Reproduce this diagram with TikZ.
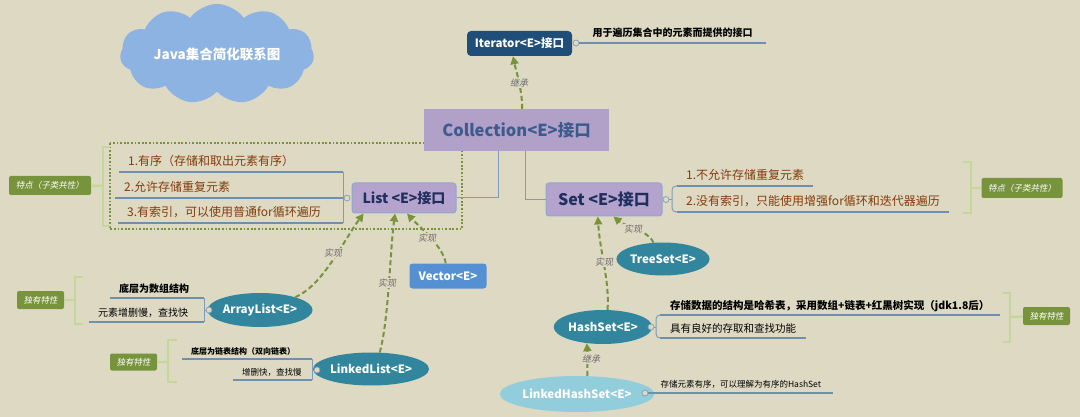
\documentclass[tikz,border=0pt]{standalone}
\usepackage{fontspec}
\setmainfont{Noto Sans CJK SC}
\newfontfamily\slfont{Noto Sans CJK SC}[FakeSlant=0.2]
\usetikzlibrary{shapes.symbols,shapes.geometric,arrows.meta}

\definecolor{bgcol}{HTML}{DED9C3}
\definecolor{cloudblue}{HTML}{8DB3E2}
\definecolor{iterblue}{HTML}{1F4E79}
\definecolor{collfill}{HTML}{B1A0C7}
\definecolor{colltext}{HTML}{3B5B8C}
\definecolor{ifacefill}{HTML}{B4A3CC}
\definecolor{ifaceline}{HTML}{8FA8CF}
\definecolor{ifacetext}{HTML}{1F2F5F}
\definecolor{vecblue}{HTML}{5590D3}
\definecolor{ellteal}{HTML}{31859C}
\definecolor{elllight}{HTML}{92CDDC}
\definecolor{featgreen}{HTML}{77933C}
\definecolor{brkgreen}{HTML}{C4D79B}
\definecolor{arrgreen}{HTML}{77933C}
\definecolor{lineblue}{HTML}{7F9DB9}
\definecolor{ulblue}{HTML}{6F8FAF}
\definecolor{itemred}{HTML}{843C0C}
\definecolor{labgray}{HTML}{6A6A6A}

\tikzset{
	ifacebox/.style={draw=ifaceline, line width=1pt, fill=ifacefill, rounded corners=3pt, text=ifacetext},
	implell/.style={ellipse, fill=ellteal, text=white, inner sep=0pt, font=\bfseries\fontsize{11.5}{12}\selectfont},
	featbox/.style={fill=featgreen, rounded corners=2pt, text=white, inner sep=0pt, font=\slfont\fontsize{8.5}{9}\selectfont},
	knob/.style={circle, draw=lineblue, fill=bgcol, inner sep=0pt, minimum size=6pt, line width=0.7pt},
	uline/.style={draw=ulblue, line width=2pt},
	conn/.style={draw=lineblue, line width=1pt},
	brk/.style={draw=brkgreen, line width=2.5pt},
	dotbox/.style={draw=arrgreen, line width=1.8pt, dash pattern=on 1.8pt off 1.8pt},
	implarr/.style={draw=arrgreen, line width=2pt, dash pattern=on 5pt off 3pt, -{Triangle[length=8pt,width=8pt]}},
	rel/.style={font=\slfont\fontsize{9}{10}\selectfont, text=labgray, fill=bgcol, inner sep=1pt},
	itemtxt/.style={anchor=base west, inner xsep=9pt, inner ysep=0pt, yshift=6pt},
}

\begin{document}
\begin{tikzpicture}[x=1pt,y=-1pt]
	\fill[bgcol] (0,0) rectangle (1080,417);
	\useasboundingbox (0,0) rectangle (1080,417);

	\node[cloud, cloud puffs=11, cloud puff arc=110, aspect=2.5, fill=cloudblue, minimum width=194pt, minimum height=78pt, text=white, font=\bfseries\fontsize{13.5}{14}\selectfont] (title) at (217,54) {Java集合简化联系图};

	\draw[dotbox] (110,143) rectangle (462,229);

	\node[fill=iterblue, rounded corners=4pt, text=white, minimum width=105pt, minimum height=25pt, inner sep=0pt, font=\bfseries\fontsize{11.5}{12}\selectfont] (iter) at (519.5,43.5) {Iterator<E>接口};
	\node[fill=collfill, text=colltext, minimum width=185pt, minimum height=42pt, inner sep=0pt, font=\bfseries\fontsize{16.5}{17}\selectfont] (coll) at (516.5,130) {Collection<E>接口};
	\node[ifacebox, minimum width=104pt, minimum height=30pt, inner sep=0pt, font=\bfseries\fontsize{14}{15}\selectfont] (list) at (404,198) {List <E>接口};
	\node[ifacebox, minimum width=116pt, minimum height=33pt, inner sep=0pt, font=\bfseries\fontsize{16}{17}\selectfont] (sset) at (604,199.5) {Set <E>接口};
	\node[fill=vecblue, rounded corners=3pt, text=white, minimum width=77pt, minimum height=25pt, inner sep=0pt, font=\bfseries\fontsize{11.5}{12}\selectfont] (vec) at (448,276) {Vector<E>};
	\node[implell, minimum width=93pt, minimum height=34pt] (alist) at (260,310) {ArrayList<E>};
	\node[implell, minimum width=97pt, minimum height=33pt] (llist) at (371,369) {LinkedList<E>};
	\node[implell, minimum width=86pt, minimum height=33pt] (tset) at (663,259) {TreeSet<E>};
	\node[implell, minimum width=88pt, minimum height=34pt] (hset) at (603,327) {HashSet<E>};
	\node[implell, fill=elllight, minimum width=127pt, minimum height=36pt] (lhset) at (577,394) {LinkedHashSet<E>};

	% Collection to the two interfaces
	\draw[conn] (list.east) -| (coll.-131);
	\draw[conn] (sset.west) -| (coll.-68);

	% Iterator
	\node[knob] (iknob) at (576,43) {};
	\node[itemtxt, inner xsep=13pt, font=\bfseries\fontsize{10}{11}\selectfont] (idesc) at (iknob.east) {用于遍历集合中的元素而提供的接口};
	\draw[uline] (iknob.east) -- (idesc.east |- iknob);

	% List
	\node[knob] (lknob) at (347,198) {};
	\coordinate (lspine) at (343,198);
	\coordinate (l1u) at (119,172);
	\coordinate (l2u) at (115,198);
	\coordinate (l3u) at (118,223);
	\node[itemtxt, text=itemred, font=\fontsize{12}{13}\selectfont] (l1) at (l1u) {1.有序（存储和取出元素有序）};
	\node[itemtxt, text=itemred, font=\fontsize{12}{13}\selectfont] (l2) at (l2u) {2.允许存储重复元素};
	\node[itemtxt, text=itemred, font=\fontsize{12}{13}\selectfont] (l3) at (l3u) {3.有索引，可以使用普通for循环遍历};
	\draw[uline] (l1u) -- (l1u -| lspine);
	\draw[uline] (l2u) -- (lspine);
	\draw[uline] (l3u) -- (l3u -| lspine);
	\draw[conn] (l1u -| lspine) -- (l3u -| lspine);
	\draw[conn] (lknob) -- (lspine);
	\draw[brk] (110,147) -- (103,147) -- (103,226) -- (110,226);
	\node[featbox, minimum width=82pt, minimum height=19pt] (lfeat) at (50,185.5) {特点（子类共性）};
	\coordinate (lbrk) at (103,186);
	\draw[brk] (lbrk) -- (lfeat);

	% Set
	\node[knob] (sknob) at (666,199.5) {};
	\coordinate (sspine) at (672,199.5);
	\coordinate (s1u) at (677,186);
	\coordinate (s2u) at (677,212);
	\node[itemtxt, text=itemred, font=\fontsize{12}{13}\selectfont] (s1) at (s1u) {1.不允许存储重复元素};
	\node[itemtxt, text=itemred, font=\fontsize{12}{13}\selectfont] (s2) at (s2u) {2.没有索引，只能使用增强for循环和迭代器遍历};
	\draw[uline] (s1u) -- (s1.east |- s1u);
	\draw[uline] (s2u) -- (s2.east |- s2u);
	\draw[conn, rounded corners=4pt] (s1u) -| (sspine) |- (s2u);
	\draw[conn] (sknob) -- (sspine);
	\draw[brk] (963,162) -- (971,162) -- (971,213) -- (963,213);
	\node[featbox, minimum width=81pt, minimum height=20pt] (sfeat) at (1022,188) {特点（子类共性）};
	\coordinate (sbrk) at (971,188);
	\draw[brk] (sbrk) -- (sfeat);

	% ArrayList
	\node[knob] (aknob) at (209,310) {};
	\coordinate (aspine) at (204,310);
	\coordinate (a1u) at (110,298);
	\coordinate (a2u) at (89,322);
	\node[itemtxt, font=\bfseries\fontsize{10}{11}\selectfont] (a1) at (a1u) {底层为数组结构};
	\node[itemtxt, font=\fontsize{10}{11}\selectfont] (a2) at (a2u) {元素增删慢，查找快};
	\draw[uline] (a1u) -- (a1u -| aspine);
	\draw[uline] (a2u) -- (a2u -| aspine);
	\draw[conn, rounded corners=3pt] (a1u -| aspine) -- (a2u -| aspine);
	\draw[conn] (aknob) -- (aspine);
	\draw[brk] (83,277) -- (75,277) -- (75,324) -- (83,324);
	\node[featbox, minimum width=47pt, minimum height=18pt] (afeat) at (40.5,300) {独有特性};
	\coordinate (abrk) at (75,300);
	\draw[brk] (abrk) -- (afeat);

	% LinkedList
	\node[knob] (lkknob) at (317,370) {};
	\coordinate (lkspine) at (312,370);
	\coordinate (k1u) at (182,359);
	\coordinate (k2u) at (233,380);
	\node[itemtxt, yshift=-1.5pt, font=\bfseries\fontsize{8}{9}\selectfont] (k1) at (k1u) {底层为链表结构（双向链表）};
	\node[itemtxt, yshift=-1pt, font=\fontsize{8.5}{9}\selectfont] (k2) at (k2u) {增删快，查找慢};
	\draw[uline] (k1u) -- (k1u -| lkspine);
	\draw[uline] (k2u) -- (k2u -| lkspine);
	\draw[conn] (k1u -| lkspine) -- (k2u -| lkspine);
	\draw[conn] (lkknob) -- (lkspine);
	\draw[brk] (177,340) -- (168,340) -- (168,382) -- (177,382);
	\node[featbox, minimum width=47pt, minimum height=17pt] (lkfeat) at (133.5,362) {独有特性};
	\coordinate (lkbrk) at (168,362);
	\draw[brk] (lkbrk) -- (lkfeat);

	% HashSet
	\node[knob] (hknob) at (651,327) {};
	\coordinate (hspine) at (656,327);
	\coordinate (h1u) at (660,315);
	\coordinate (h2u) at (660,338);
	\node[itemtxt, inner xsep=10pt, font=\bfseries\fontsize{10.5}{11}\selectfont] (h1) at (h1u) {存储数据的结构是哈希表，采用数组+链表+红黑树实现（jdk1.8后）};
	\node[itemtxt, inner xsep=10pt, font=\fontsize{10.5}{11}\selectfont] (h2) at (h2u) {具有良好的存取和查找功能};
	\draw[uline] (h1u) -- (h1.east |- h1u);
	\draw[uline] (h2u) -- (h2.east |- h2u);
	\draw[conn, rounded corners=4pt] (h1u) -| (hspine) |- (h2u);
	\draw[conn] (hknob) -- (hspine);
	\draw[brk] (1003,293) -- (1010,293) -- (1010,342) -- (1003,342);
	\node[featbox, minimum width=47pt, minimum height=18pt] (hfeat) at (1046.5,316) {独有特性};
	\coordinate (hbrk) at (1010,317);
	\draw[brk] (hbrk) -- (hfeat);

	% LinkedHashSet
	\node[knob] (lhknob) at (645,393) {};
	\node[itemtxt, inner xsep=12pt, font=\fontsize{8.5}{9}\selectfont] (lhdesc) at (lhknob.east) {存储元素有序，可以理解为有序的HashSet};
	\draw[uline] (lhknob.east) -- (lhdesc.east |- lhknob);

	% inheritance and implementation
	\draw[implarr] (coll.75) .. controls +(0,-20) and +(3,15) .. (iter.-117);
	\draw[implarr] (alist.20) .. controls +(28,-12) and +(-20,27) .. (list.-159);
	\draw[implarr] (llist.62) .. controls +(9,-33) and +(-5,37) .. (list.-120);
	\draw[implarr] (vec.100) .. controls +(-3,-18) and +(11,12) .. (list.-79);
	\draw[implarr] (tset.120) .. controls +(-5,-12) and +(12,10) .. (sset.-61);
	\draw[implarr] (hset.75) .. controls +(2,-30) and +(2,35) .. (sset.-110);
	\draw[implarr] (lhset.60) .. controls +(0,-12) and +(1,12) .. (hset.-135);
	\node[rel] (r1) at (519,83) {继承};
	\node[rel] (r2) at (333,253) {实现};
	\node[rel] (r3) at (387,283) {实现};
	\node[rel] (r4) at (427,238) {实现};
	\node[rel] (r5) at (633,229) {实现};
	\node[rel] (r6) at (604,262) {实现};
	\node[rel] (r7) at (591,359) {继承};

\end{tikzpicture}
\end{document}
